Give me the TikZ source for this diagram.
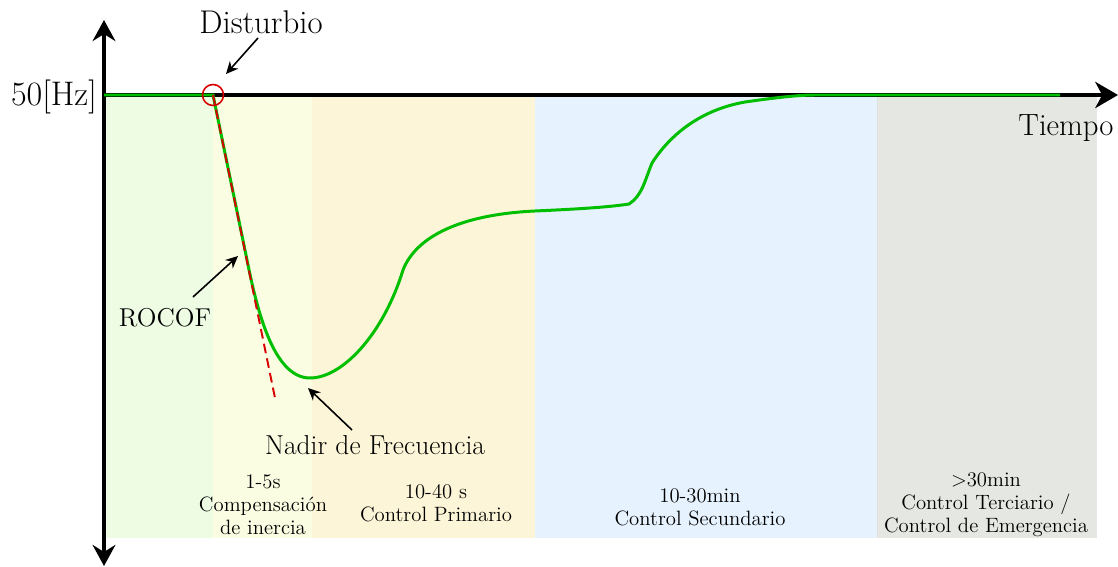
\documentclass[tikz,border=0pt]{standalone}
\usepackage{xcolor}
\usepackage{tikz}
\usetikzlibrary{arrows,arrows.meta,positioning,calc}

\definecolor{zonaA}{RGB}{238,252,228}
\definecolor{zonaB}{RGB}{250,253,226}
\definecolor{zonaC}{RGB}{253,245,215}
\definecolor{zonaD}{RGB}{230,242,253}
\definecolor{zonaE}{RGB}{229,231,227}
\definecolor{verde}{RGB}{0,190,0}
\definecolor{rojo}{RGB}{215,0,0}

\begin{document}
\begin{tikzpicture}[x=0.02cm,y=-0.02cm,
    flecha/.style={-{Stealth[length=7pt,width=6.5pt]},line width=0.9pt},
    eje/.style={line width=1.8pt},
    zona/.style={align=center,font=\fontsize{11.8}{13.1}\selectfont}]
        \useasboundingbox (0,0) rectangle (1118,567);

        % zonas de control
        \fill[zonaA] (104,95) rectangle (213,538);
        \fill[zonaB] (213,95) rectangle (312,538);
        \fill[zonaC] (312,95) rectangle (535,538);
        \fill[zonaD] (535,95) rectangle (877,538);
        \fill[zonaE] (877,95) rectangle (1097,538);
        \draw[black!12] (877,95) -- (877,538);

        % ejes
        \coordinate (origen) at (104,95);
        \coordinate (arriba) at (104,20);
        \coordinate (abajo) at (104,566);
        \coordinate (fin) at (1118,95);
        \draw[eje,{Stealth[length=12pt,width=13pt,inset=4pt]}-{Stealth[length=12pt,width=13pt,inset=4pt]}] (arriba) -- (abajo);
        \draw[eje,-{Stealth[length=13pt,width=15pt,inset=4pt]}] (origen) -- (fin);

        \node[left,font=\fontsize{19.4}{22}\selectfont] (hz) at (103,97) {50[Hz]};
        \node[font=\fontsize{17.5}{20}\selectfont] (tiempo) at (1066,128) {Tiempo};

        % frecuencia
        \coordinate (dist) at (213,95);
        \draw[verde,line width=1.7pt] (origen) -- (dist) -- (246,255)
          .. controls (256,305) and (272,378) .. (310,378)
          .. controls (342,378) and (383,335) .. (403,270)
          .. controls (418,232) and (470,214) .. (535,211)
          .. controls (580,209) and (610,207) .. (629,204)
          .. controls (642,196) and (645,180) .. (652,163)
          .. controls (670,135) and (700,110) .. (745,102)
          .. controls (780,97) and (800,95) .. (815,95) -- (1060,95);

        % tangente ROCOF
        \coordinate (tang) at (275,398);
        \draw[rojo,line width=1.1pt,dash pattern=on 5.5pt off 3pt] (dist) -- (tang);

        \draw[rojo,line width=0.9pt] (dist) circle (10.5);

        % etiquetas
        \node[font=\fontsize{18.7}{21}\selectfont] (disturbio) at (261,22) {Disturbio};
        \coordinate (pdist) at (226,74);
        \draw[flecha] (258,38) -- (pdist);

        \node[font=\fontsize{14.7}{17}\selectfont] (rocof) at (165,318) {ROCOF};
        \coordinate (procof) at (238,256);
        \draw[flecha] (193,297) -- (procof);

        \node[font=\fontsize{15.6}{18}\selectfont] (nadir) at (375,445) {Nadir de Frecuencia};
        \coordinate (pnadir) at (308,388);
        \draw[flecha] (352,430) -- (pnadir);

        \node[zona] (z1) at (263,505) {1-5s\\Compensación\\de inercia};
        \node[zona] (z2) at (436,503) {10-40 s\\Control Primario};
        \node[zona] (z3) at (700,507) {10-30min\\Control Secundario};
        \node[zona] (z4) at (986,505) {>30min\\Control Terciario /\\Control de Emergencia};
\end{tikzpicture}
\end{document}
